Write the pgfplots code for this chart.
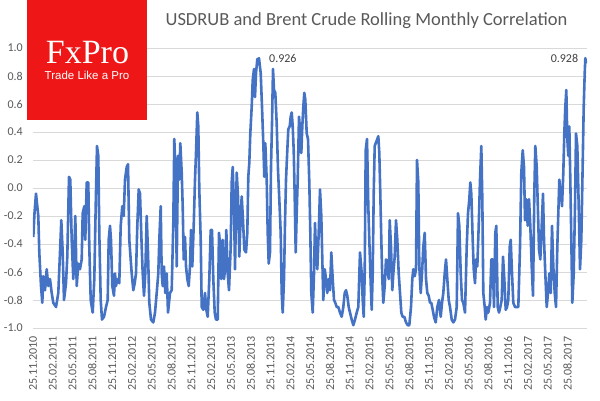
\documentclass[border=0pt]{standalone}
\usepackage{fontspec}
\setmainfont{Carlito}
\newfontfamily\logoserif{Liberation Serif}
\newfontfamily\logosans{Liberation Sans}
\usepackage{pgfplots}
\pgfplotsset{compat=1.18}
\definecolor{linecol}{RGB}{68,114,196}
\definecolor{gridcol}{RGB}{217,217,217}
\definecolor{labcol}{RGB}{89,89,89}
\definecolor{peakcol}{RGB}{64,64,64}
\definecolor{logored}{RGB}{238,22,22}
\begin{document}
\begin{tikzpicture}[x=1bp,y=1bp]
\begin{axis}[
    scale only axis, width=554bp, height=280bp,
    xmin=33, xmax=587, ymin=-1, ymax=1,
    axis line style={draw=none},
    major tick length=0pt,
    ymajorgrids, major grid style={gridcol, line width=0.8bp},
    ytick={-1,-0.8,-0.6,-0.4,-0.2,0,0.2,0.4,0.6,0.8,1},
    yticklabels={-1.0,-0.8,-0.6,-0.4,-0.2,0.0,0.2,0.4,0.6,0.8,1.0},
    xtick={33,52.8,...,568},
    xticklabels={25.11.2010,25.02.2011,25.05.2011,25.08.2011,25.11.2011,
      25.02.2012,25.05.2012,25.08.2012,25.11.2012,25.02.2013,25.05.2013,
      25.08.2013,25.11.2013,25.02.2014,25.05.2014,25.08.2014,25.11.2014,
      25.02.2015,25.05.2015,25.08.2015,25.11.2015,25.02.2016,25.05.2016,
      25.08.2016,25.11.2016,25.02.2017,25.05.2017,25.08.2017},
    ticklabel style={text=labcol, font=\fontsize{12bp}{14bp}\selectfont, inner sep=0pt},
    xticklabel style={rotate=90, anchor=east},
    xticklabel shift=8bp,
    yticklabel style={anchor=east},
    yticklabel shift=10bp,
]
\coordinate (c0) at (rel axis cs:0,0);
\addplot[linecol, line width=2.6bp, line join=round, mark=none] coordinates {
(33.3,-0.35)(34.5,-0.18)(36,-0.04)(38.3,-0.20)(39.3,-0.46)(41,-0.70)(42.3,-0.82)(43.3,-0.63)
(45,-0.73)(46.7,-0.58)(48.3,-0.70)(50,-0.65)(51.7,-0.75)(53.3,-0.82)(56,-0.85)(58.3,-0.75)
(60,-0.46)(61.3,-0.23)(62.7,-0.46)(64,-0.80)(66,-0.68)(67.3,-0.49)(69,0.08)(70.3,0.06)
(71.7,-0.37)(73.3,-0.65)(74.3,-0.46)(75.3,-0.20)(76.7,-0.70)(78.3,-0.54)(80,-0.58)(81.7,-0.51)
(82.7,-0.18)(84.3,-0.13)(85.3,-0.37)(86.7,0.04)(88.3,0.04)(89.3,-0.42)(90.7,-0.80)(92.7,-0.89)
(94.3,-0.65)(95.7,-0.13)(97,0.30)(98.3,0.23)(99.3,-0.32)(100.7,-0.80)(102,-0.94)(104,-0.92)
(106,-0.85)(107.7,-0.80)(108.7,-0.37)(110,-0.27)(111,-0.37)(112.3,-0.70)(114,-0.77)(115,-0.61)
(116,-0.70)(117.3,-0.65)(119.3,-0.68)(120.7,-0.27)(122.3,-0.13)(123.7,-0.20)(125,0.06)(126.7,0.15)
(128,0.17)(129.3,-0.37)(131.7,-0.61)(133.3,-0.73)(134.7,-0.68)(136,-0.61)(137.3,-0.27)(138.7,-0.01)
(140,-0.04)(141.7,-0.42)(142.7,-0.61)(144,-0.77)(145.3,-0.61)(146.7,-0.20)(148,-0.46)(149.3,-0.82)
(151,-0.94)(153.3,-0.96)(155,-0.89)(156.7,-0.75)(158.3,-0.61)(159.3,-0.37)(160.7,-0.13)(161.7,-0.61)
(162.7,-0.70)(164,-0.56)(165.3,-0.75)(166.7,-0.61)(168,-0.89)(170,-0.75)(171.7,-0.73)(173.3,-0.25)
(174.3,0.35)(175.7,0.06)(176.7,-0.56)(178,0.23)(179.3,0.06)(180.3,0.32)(181.7,0.11)(182.7,-0.13)
(183.7,-0.51)(185,-0.35)(186,-0.56)(187.3,-0.65)(188.7,-0.70)(190,-0.56)(191,-0.30)(192.3,-0.56)
(193.7,-0.27)(195,0.06)(196,0.25)(197.3,0.54)(198.3,0.44)(199.3,-0.01)(200.7,-0.37)(201.7,-0.85)
(203.3,-0.87)(205,-0.75)(206.3,-0.87)(207.7,-0.92)(209.3,-0.65)(210.7,-0.30)(212,-0.30)(213.3,-0.65)
(214.7,-0.89)(216,-0.94)(217.7,-0.94)(219,-0.32)(220.3,-0.42)(221.3,-0.65)(222.7,-0.37)(224,-0.65)
(225.3,-0.56)(226.3,-0.30)(227.7,-0.61)(229,-0.73)(230.7,-0.42)(231.7,0.04)(232.7,0.15)(234,-0.13)
(235,-0.58)(236.7,0.11)(238,-0.06)(239.3,-0.49)(240.7,-0.20)(241.7,-0.06)(243,-0.23)(244.3,-0.44)
(246,-0.46)(247.3,-0.32)(248.3,0.08)(249.3,0.18)(250.3,0.39)(251.7,0.58)(252.7,0.77)(254,0.85)
(255,0.65)(256,0.82)(257.3,0.92)(259,0.926)(260.7,0.82)(262,0.58)(263.3,0.32)(264.3,0.08)
(265.3,0.32)(266.7,0.06)(267.7,-0.32)(268.7,-0.54)(270,-0.46)(271,0.15)(272,0.46)(273,0.85)
(274,0.70)(275.3,0.68)(276.7,0.46)(278,0.13)(279.3,-0.08)(280.7,-0.32)(281.7,-0.75)(282.7,-0.89)
(284,-0.65)(285,-0.25)(286,0.06)(287.3,0.27)(288.3,0.42)(289.7,0.44)(290.7,0.51)(291.7,0.54)
(292.7,0.44)(293.7,0.27)(294.7,-0.06)(295.7,-0.46)(296.7,-0.18)(297.7,0.06)(299,0.51)(300,0.42)
(301.3,0.25)(302.3,0.44)(303.3,0.58)(304.3,0.68)(305.3,0.63)(306.7,0.39)(308,0.35)(309.3,0.04)
(310.3,-0.32)(311.3,-0.75)(312.7,-0.89)(314,-0.61)(315,-0.25)(316,-0.46)(317.3,-0.58)(318.7,-0.32)
(320,-0.01)(321.3,-0.20)(322.3,-0.51)(323.3,-0.80)(324.7,-0.58)(326,-0.65)(327.3,-0.75)(328.7,-0.65)
(330,-0.73)(331.3,-0.46)(332.7,-0.65)(334,-0.80)(335.3,-0.82)(336.7,-0.85)(338.3,-0.85)(340,-0.89)
(341.7,-0.92)(343.3,-0.85)(344.7,-0.75)(346,-0.73)(347.3,-0.77)(348.7,-0.85)(350,-0.89)(351.7,-0.94)
(353.3,-0.98)(355,-0.94)(356.7,-0.89)(358.3,-0.85)(360,-0.46)(361.7,-0.61)(362.7,-0.80)(363.7,-0.92)
(364.7,-0.61)(365.7,0.27)(367,0.35)(368.3,-0.13)(369.3,-0.37)(370.7,-0.68)(371.7,-0.87)(372.7,-0.61)
(373.7,-0.04)(374.7,0.30)(375.7,0.32)(377.3,0.35)(378.3,0.37)(379.3,0.25)(380.3,-0.04)(381.3,-0.37)
(382.3,-0.65)(383.3,-0.82)(384.7,-0.70)(386,-0.51)(387.3,-0.56)(388.7,-0.65)(389.7,-0.23)(391,-0.42)
(392.3,-0.73)(393.3,-0.61)(394.7,-0.49)(396,-0.23)(397.3,-0.37)(398.7,-0.61)(400,-0.75)(401.3,-0.89)
(402.7,-0.92)(404.3,-0.92)(406,-0.96)(407.7,-0.98)(409.3,-0.98)(411,-0.85)(412.3,-0.65)(413.3,-0.58)
(414.7,-0.63)(416,-0.58)(417,0.20)(418.3,0.04)(419.3,-0.56)(420.7,-0.75)(422,-0.61)(423.3,-0.42)
(424.7,-0.32)(426,-0.65)(427.3,-0.75)(428.7,-0.77)(430,-0.82)(431.3,-0.82)(432.7,-0.87)(434,-0.92)
(435.7,-0.96)(437.3,-0.85)(439,-0.80)(440.7,-0.92)(442,-0.82)(443.3,-0.75)(444.7,-0.61)(446,-0.51)
(447.3,-0.65)(448.7,-0.80)(450,-0.85)(451.7,-0.94)(453.3,-0.96)(455,-0.94)(456.7,-0.85)(458,-0.18)
(459.3,-0.27)(460.7,-0.61)(462,-0.80)(463.3,-0.82)(465,-0.89)(466.7,-0.42)(468,-0.18)(469.3,-0.08)
(470.3,0.04)(471.3,-0.04)(472.7,-0.37)(473.7,-0.58)(475,-0.68)(476,-0.51)(477.3,-0.56)(478.7,-0.27)
(480,0.06)(481.3,0.30)(482.3,-0.08)(483.3,-0.75)(484.7,-0.85)(485.7,-0.94)(487,-0.85)(488.3,-0.89)
(490,-0.82)(491.3,-0.51)(492.7,-0.51)(494,-0.85)(495.3,-0.32)(496.3,-0.27)(497.7,-0.85)(499,-0.89)
(500.3,-0.85)(501.7,-0.80)(503,-0.49)(504.3,-0.65)(505.7,-0.87)(507,-0.85)(508.3,-0.80)(509.7,-0.42)
(510.7,-0.37)(512,-0.61)(513.3,-0.82)(515,-0.85)(516.7,-0.85)(518.3,-0.85)(520,-0.42)(521.3,0.11)
(522.7,0.27)(524,0.15)(525,-0.23)(526.3,-0.08)(527.7,-0.27)(529,-0.08)(530.3,-0.27)(531.7,-0.56)
(533,-0.77)(534.3,-0.04)(535.3,0.30)(536.7,0.15)(538,-0.18)(539,-0.44)(540.3,-0.51)(541.7,-0.27)
(543,-0.04)(544,-0.37)(545.3,-0.61)(546.7,-0.85)(548,-0.75)(549.3,-0.61)(550.7,-0.75)(552,-0.27)
(553.3,-0.56)(554.7,-0.75)(556,-0.85)(557.3,-0.42)(558.3,-0.18)(559.3,0.06)(560.7,-0.04)(562,-0.13)
(563.3,0.11)(564.3,0.39)(565.3,0.58)(566.3,0.70)(567.3,0.35)(568.3,0.23)(569.3,0.44)(570.3,0.06)
(571.3,-0.37)(572.3,-0.82)(573.7,-0.61)(575,-0.13)(576,0.39)(577.3,0.30)(578.7,-0.13)(580,-0.58)
(581.3,-0.37)(582.7,0.18)(583.7,0.58)(584.7,0.82)(585.3,0.928)(586,0.89)
};
\addplot[draw=none, mark=none, point meta=explicit symbolic, nodes near coords,
  nodes near coords style={anchor=west, inner sep=0pt, xshift=10bp, text=peakcol,
  font=\fontsize{12bp}{14bp}\selectfont}] coordinates {(259,0.926)[0.926]};
\addplot[draw=none, mark=none, point meta=explicit symbolic, nodes near coords,
  nodes near coords style={anchor=east, inner sep=0pt, xshift=-7bp, text=peakcol,
  font=\fontsize{12bp}{14bp}\selectfont}] coordinates {(585.3,0.928)[0.928]};
\end{axis}
% page frame and decorations, relative to the lower left corner of the plot area
\begin{scope}[shift={(c0)}]
\path (-33,-72) rectangle (567,328);
\fill[logored] (-6,208) rectangle (114,328);
\node[white, anchor=base, inner sep=0pt, font=\logoserif\fontsize{34bp}{34bp}\selectfont] at (54.5,264.7) {FxPro};
\node[white, anchor=base, inner sep=0pt, font=\logosans\fontsize{11.5bp}{13bp}\selectfont] at (54,249) {Trade Like a Pro};
\node[labcol, anchor=base, inner sep=0pt, font=\fontsize{18.5bp}{20bp}\selectfont] at (333.5,303) {USDRUB and Brent Crude Rolling Monthly Correlation};
\end{scope}
\end{tikzpicture}
\end{document}
